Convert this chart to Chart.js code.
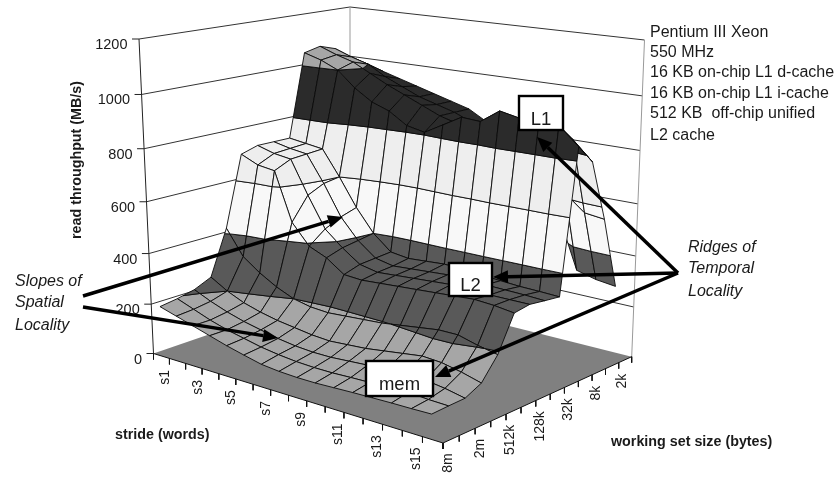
<!DOCTYPE html>
<html><head><meta charset="utf-8">
<style>html,body{margin:0;padding:0;background:#fff}canvas{display:block}</style>
<script src="https://cdn.jsdelivr.net/npm/chart.js@4/dist/chart.umd.min.js"></script>
</head><body><canvas id="c" width="836" height="477"></canvas>
<script>
const strideLabels=['s1','s2','s3','s4','s5','s6','s7','s8','s9','s10','s11','s12','s13','s14','s15','s16'];
const sizeLabels=['8m','4m','2m','1m','512k','256k','128k','64k','32k','16k','8k','4k','2k'];
const yTicks=[0,200,400,600,800,1000,1200];
// read throughput (MB/s) for each working set size, s1..s16
const t8m  =[185,165,145,125,105,88,72,65,62,62,65,68,70,72,73,75];
const t4m  =[195,170,145,125,110,95,85,78,75,75,78,80,83,85,80,78];
const t2m  =[210,180,155,135,120,105,95,90,90,95,100,105,110,105,95,80];
const t1m  =[240,200,170,150,135,125,115,110,115,120,130,140,150,145,130,110];
const t512k=[420,320,270,230,200,185,180,185,190,195,205,215,225,225,205,190];
const t256k=[700,670,660,470,390,360,310,305,310,315,320,325,330,335,330,320];
const t128k=[720,700,690,560,440,380,330,315,320,325,330,335,335,330,330,330];
const t64k =[720,705,695,590,470,390,335,320,325,330,335,335,330,328,326,322];
const t32k =[720,710,700,600,490,400,340,330,335,340,335,330,325,320,318,315];
const t16k =[1050,1030,1000,940,895,870,825,810,850,890,885,935,920,910,915,850];
const t8k  =[1065,1040,1020,985,950,920,890,860,840,850,850,880,880,880,850,780];
const t4k  =[1045,1020,1000,960,930,900,880,860,830,840,850,860,850,620,560,550];
const t2k  =[985,980,960,940,920,900,880,860,820,780,740,650,500,300,280,270];
const surface=[t8m,t4m,t2m,t1m,t512k,t256k,t128k,t64k,t32k,t16k,t8k,t4k,t2k];
const bandColors=['#a6a6a6','#595959','#f8f8f8','#eeeeee','#2b2b2b','#a6a6a6'];
const bandSize=200,zMax=1200;

function homography(p){const [p0,p1,p2,p3]=p;
 const dx1=p1[0]-p2[0],dx2=p3[0]-p2[0],sx=p0[0]-p1[0]+p2[0]-p3[0];
 const dy1=p1[1]-p2[1],dy2=p3[1]-p2[1],sy=p0[1]-p1[1]+p2[1]-p3[1];
 const det=dx1*dy2-dx2*dy1,g=(sx*dy2-dx2*sy)/det,h=(dx1*sy-sx*dy1)/det;
 const a=p1[0]-p0[0]+g*p1[0],b=p3[0]-p0[0]+h*p3[0],d=p1[1]-p0[1]+g*p1[1],e=p3[1]-p0[1]+h*p3[1];
 return (u,v)=>{const w=g*u+h*v+1;return [(a*u+b*v+p0[0])/w,(d*u+e*v+p0[1])/w];};
}
const floorH=homography([[153.5,353.5],[443,443],[631.7,356.7],[350,286]]);
const topH=homography([[139,39],[447,82],[644.5,40],[350,7]]);
function project(u,v,z){const t=z/zMax,s=t*(1+0.07*(t-1));const f=floorH(u,v),c=topH(u,v);
 return {x:f[0]+(c[0]-f[0])*s,y:f[1]+(c[1]-f[1])*s};}
const U=i=>(i+.15)/strideLabels.length, V=j=>(j+.35)/12.5;
const UL=i=>(i+.5)/strideLabels.length, VL=j=>(j+.5)/sizeLabels.length;

const ds=[];
function poly(pts,fill,stroke,w){ds.push({data:pts,showLine:true,pointRadius:0,fill:fill?'shape':false,backgroundColor:fill||'transparent',borderColor:stroke||'transparent',borderWidth:stroke?(w||1):0,tension:0,clip:false,spanGaps:true});}
function line(a,b,c,w){poly([a,b],null,c,w);}
const off=(p,dx,dy)=>({x:p.x+dx,y:p.y+dy});

// walls
yTicks.forEach(z=>{ if(z===0)return;
 line(project(0,0,z),project(0,1,z),'#333',1);
 line(project(0,1,z),project(1,1,z),'#333',1);
});
line(project(0,1,0),project(0,1,zMax),'#999',1);
line(project(1,1,0),project(1,1,zMax),'#999',1);
// floor
poly([project(0,0,0),project(1,0,0),project(1,1,0),project(0,1,0),project(0,0,0)],'#808080',null);
line(project(0,0,0),project(0,0,zMax),'#222',1);
line(project(0,0,0),project(1,0,0),'#111',1);
line(project(1,0,0),project(1,1,0),'#111',1);
yTicks.forEach(z=>{const p=project(0,0,z);line(p,off(p,-7,0),'#222',1);});
for(let i=0;i<=strideLabels.length;i++){const p=project(i/strideLabels.length,0,0);line(p,off(p,0,6),'#111',1);}
for(let j=0;j<=sizeLabels.length;j++){const p=project(1,j/sizeLabels.length,0);line(p,off(p,0,6),'#111',1);}

// surface, back to front
function clip(poly,val,keepAbove){const out=[];for(let k=0;k<poly.length;k++){const a=poly[k],b=poly[(k+1)%poly.length];
 const ia=keepAbove?a.z>=val:a.z<=val, ib=keepAbove?b.z>=val:b.z<=val;
 if(ia)out.push(a);
 if(ia!==ib){const t=(val-a.z)/(b.z-a.z);out.push({u:a.u+(b.u-a.u)*t,v:a.v+(b.v-a.v)*t,z:val});}
 }return out;}
for(let j=sizeLabels.length-2;j>=0;j--){
 for(let i=0;i<strideLabels.length-1;i++){
  const q=[[i,j],[i+1,j],[i+1,j+1],[i,j+1]].map(([a,b])=>({u:U(a),v:V(b),z:surface[b][a]}));
  bandColors.forEach((col,b)=>{
   let p=clip(q,b*bandSize,true); if(p.length>=3)p=clip(p,(b+1)*bandSize,false);
   if(p.length>=3){const pts=p.map(o=>project(o.u,o.v,o.z));pts.push(pts[0]);poly(pts,col,'#0a0a0a',0.9);}
  });
 }
}

const font='"Liberation Sans",Arial,sans-serif';
const notes=[['Pentium III Xeon',650,33],['550 MHz',650,53],['16 KB on-chip L1 d-cache',650,73],['16 KB on-chip L1 i-cache',650,94],['512 KB  off-chip unified',650,114],['L2 cache',650,136]];
const italics=[['Slopes of',15,282],['Spatial',15,303],['Locality',15,326],['Ridges of',688,248],['Temporal',688,269],['Locality',688,292]];
const arrows=[[83,296,343,217],[83,307,278,338],[678,273,537,137],[678,273,493,277],[678,273,435,377]];
const boxes=[['L1',519,96,44,34,120],['L2',449,263,43,33,286],['mem',366,361,67,35,385]];

const overlay={id:'overlay',afterDatasetsDraw(chart){const c=chart.ctx,X=chart.scales.x,Y=chart.scales.y;
 const px=p=>[X.getPixelForValue(p.x),Y.getPixelForValue(p.y)];
 c.save();c.fillStyle='#1a1a1a';c.textBaseline='middle';
 // y ticks
 c.font='14.5px '+font;c.textAlign='right';
 yTicks.forEach(z=>{const [x,y]=px(project(0,0,z));c.fillText(String(z),x-11.5,y+6);});
 // rotated category labels
 const rot=(t,x,y)=>{c.save();c.translate(x,y);c.rotate(-Math.PI/2);c.textAlign='right';c.fillText(t,0,0);c.restore();};
 c.font='14px '+font;
 strideLabels.forEach((t,i)=>{if(i%2)return;const [x,y]=px(project(UL(i),0,0));rot(t,x+4,y+14);});
 sizeLabels.forEach((t,j)=>{if(j%2)return;const [x,y]=px(project(1,VL(j),0));rot(t,x-3,y+14);});
 // titles
 c.font='bold 14.3px '+font;c.textAlign='left';
 c.fillText('stride (words)',115,435);c.fillText('working set size (bytes)',611,442);
 c.save();c.translate(77,160);c.rotate(-Math.PI/2);c.textAlign='center';c.fillText('read throughput (MB/s)',0,0);c.restore();
 // notes
 c.font='16px '+font;c.textAlign='left';notes.forEach(n=>c.fillText(n[0],n[1],n[2]));
 c.font='italic 16px '+font;italics.forEach(n=>c.fillText(n[0],n[1],n[2]));
 // arrows
 c.strokeStyle='#000';c.fillStyle='#000';
 arrows.forEach(([x0,y0,x1,y1])=>{const a=Math.atan2(y1-y0,x1-x0),L=15,H=6.5;
  const bx=x1-L*Math.cos(a),by=y1-L*Math.sin(a);
  c.lineWidth=3.5;c.beginPath();c.moveTo(x0,y0);c.lineTo(bx,by);c.stroke();
  c.beginPath();c.moveTo(x1,y1);c.lineTo(bx-H*Math.sin(a),by+H*Math.cos(a));c.lineTo(bx+H*Math.sin(a),by-H*Math.cos(a));c.closePath();c.fill();});
 // boxes
 boxes.forEach(([t,x,y,w,h,ty])=>{c.fillStyle='#fff';c.fillRect(x,y,w,h);c.lineWidth=2.4;c.strokeStyle='#000';c.strokeRect(x,y,w,h);
  c.fillStyle='#1a1a1a';c.font='18.5px '+font;c.textAlign='center';c.fillText(t,x+w/2,ty);});
 c.restore();
}};

new Chart(document.getElementById('c'),{type:'scatter',
 data:{datasets:ds.map((d,k)=>Object.assign(d,{order:ds.length-k}))},
 plugins:[overlay],
 options:{responsive:false,animation:false,events:[],layout:{padding:0},
  plugins:{legend:{display:false},tooltip:{enabled:false},title:{display:false}},
  scales:{x:{type:'linear',min:0,max:836,display:false},y:{type:'linear',min:0,max:477,reverse:true,display:false}}}});
</script></body></html>
